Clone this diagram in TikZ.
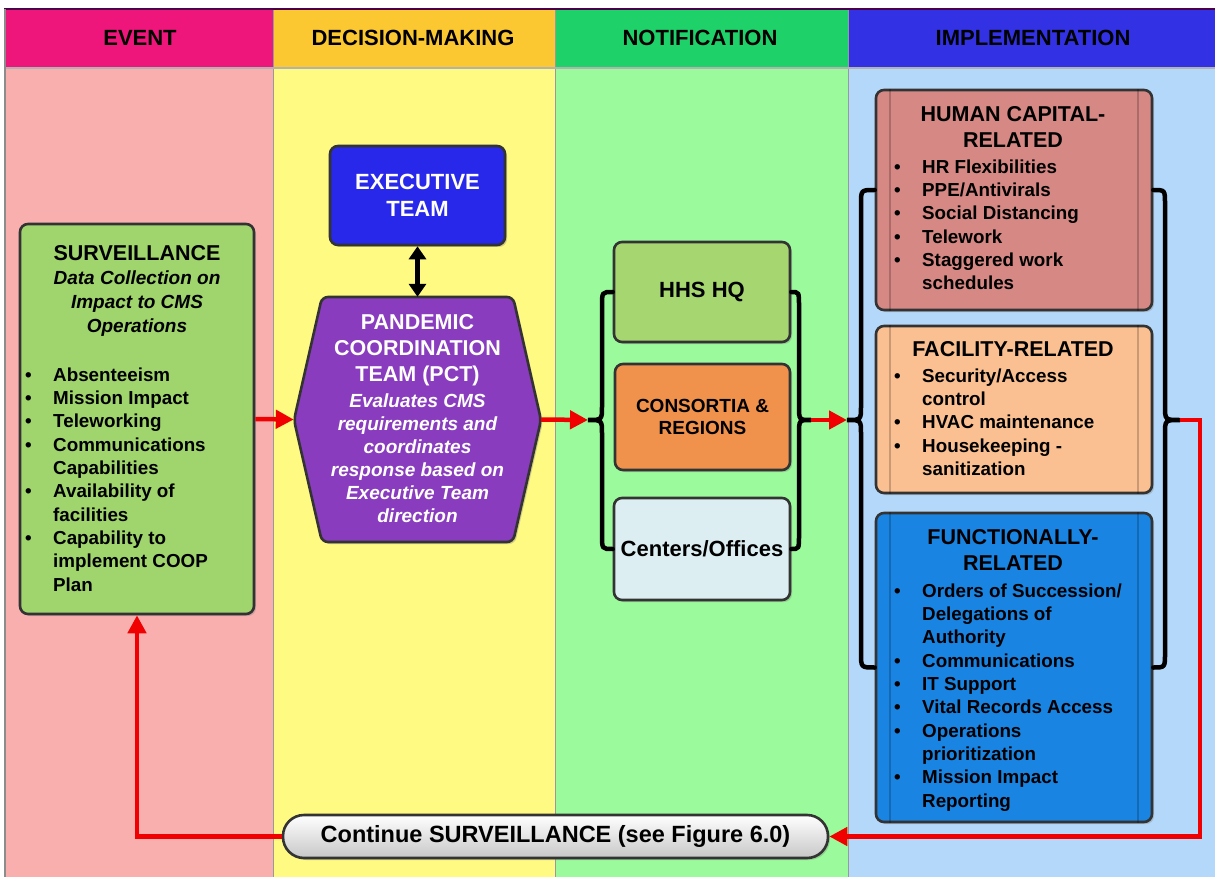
\documentclass[tikz,border=0pt]{standalone}
\usepackage{fontspec}
\setmainfont{Liberation Sans}
\usetikzlibrary{arrows.meta,shadows}
\definecolor{evhead}{RGB}{238,22,122}
\definecolor{dmhead}{RGB}{252,200,50}
\definecolor{nthead}{RGB}{30,210,105}
\definecolor{imhead}{RGB}{50,50,228}
\definecolor{evbody}{RGB}{250,175,175}
\definecolor{dmbody}{RGB}{255,250,130}
\definecolor{ntbody}{RGB}{155,250,155}
\definecolor{imbody}{RGB}{180,216,250}
\definecolor{survgreen}{RGB}{160,212,108}
\definecolor{exeblue}{RGB}{40,40,235}
\definecolor{pctpurple}{RGB}{137,60,190}
\definecolor{hhsgreen}{RGB}{166,214,112}
\definecolor{conorange}{RGB}{240,146,76}
\definecolor{cencyan}{RGB}{220,238,242}
\definecolor{humred}{RGB}{214,136,132}
\definecolor{facpeach}{RGB}{250,192,145}
\definecolor{funblue}{RGB}{26,132,226}
\definecolor{flowred}{RGB}{240,0,0}
\newcommand\lbul{\makebox[28pt][l]{\textbullet}}
\newcommand\lind{\hspace*{28pt}}
\begin{document}
\begin{tikzpicture}[x=1pt,y=-1pt,
    box/.style={draw=black!80,line width=2.6pt,rounded corners=8pt,inner sep=0,drop shadow={opacity=0.35,shadow xshift=2pt,shadow yshift=-2pt}},
    head/.style={font=\fontsize{22}{26}\selectfont\bfseries},
    ttl/.style={font=\fontsize{21.5}{26}\selectfont\bfseries,align=center,inner sep=0,anchor=north},
    lst/.style={font=\fontsize{18.8}{23.3}\selectfont\bfseries,align=left,inner sep=0,anchor=north west},
    brace/.style={line width=4.5pt,line cap=round},
    redarrow/.style={flowred,line width=4.5pt,-{Triangle[length=18pt,width=18pt]}}]
\useasboundingbox (0,0) rectangle (1215,877);
\fill[evbody] (5,68) rectangle (273,877);
\fill[dmbody] (273,68) rectangle (555,877);
\fill[ntbody] (555,68) rectangle (848,877);
\fill[imbody] (848,68) rectangle (1215,877);
\fill[evhead] (5,9) rectangle (273,68);
\fill[dmhead] (273,9) rectangle (555,68);
\fill[nthead] (555,9) rectangle (848,68);
\fill[imhead] (848,9) rectangle (1215,68);
\draw[black!40,line width=1pt] (273,9) -- (273,877) (555,9) -- (555,877) (848,9) -- (848,877);
\draw[black!30,line width=1.5pt] (5,68) -- (1215,68);
\draw[violet!60!black,line width=2.5pt] (4,9) -- (1215,9);
\draw[black!45,line width=2.5pt] (5,9) -- (5,877);
\node[head] (hev) at (140,38) {EVENT};
\node[head] (hdm) at (413,38) {DECISION-MAKING};
\node[head] (hnt) at (700,38) {NOTIFICATION};
\node[head] (him) at (1033,38) {IMPLEMENTATION};

\node[box,fill=survgreen,minimum width=234,minimum height=390] (sur) at (137,419) {};
\node[ttl,font=\fontsize{19}{24}\selectfont\bfseries\itshape] (surT) at (137,245.6) {{\fontsize{21.5}{24}\selectfont\upshape SURVEILLANCE}\\Data Collection on\\Impact to CMS\\Operations};
\node[lst] (surL) at (25,367.5) {\lbul Absenteeism\\\lbul Mission Impact\\\lbul Teleworking\\\lbul Communications\\\lind Capabilities\\\lbul Availability of\\\lind facilities\\\lbul Capability to\\\lind implement COOP\\\lind Plan};

\node[box,fill=exeblue,text=white,minimum width=175,minimum height=99,align=center,font=\fontsize{22}{27}\selectfont\bfseries] (exe) at (417.5,195.5) {EXECUTIVE\\TEAM};
\path[box,fill=pctpurple,rounded corners=6pt] (294,420) -- (322,297) -- (513,297) -- (541,420) -- (513,542) -- (322,542) -- cycle;
\node[inner sep=0,minimum width=247,minimum height=245] (pct) at (417.5,419.5) {};
\node[ttl,text=white] (pctT) at (417.5,314.6) {PANDEMIC\\COORDINATION\\TEAM (PCT)};
\node[ttl,text=white,font=\fontsize{19}{23}\selectfont\bfseries\itshape] (pctD) at (417.5,393.4) {Evaluates CMS\\requirements and\\coordinates\\response based on\\Executive Team\\direction};

\node[box,fill=hhsgreen,minimum width=176,minimum height=100,font=\fontsize{22}{26}\selectfont\bfseries] (hhs) at (702,292) {HHS HQ};
\node[box,fill=conorange,minimum width=175,minimum height=106,align=center,font=\fontsize{19}{22.5}\selectfont\bfseries] (con) at (702.5,417) {CONSORTIA \&\\REGIONS};
\node[box,fill=cencyan,minimum width=176,minimum height=102,font=\fontsize{22}{26}\selectfont\bfseries] (cen) at (702,549) {Centers/Offices};

\node[box,fill=humred,minimum width=276,minimum height=220] (hum) at (1014,200) {};
\node[box,fill=facpeach,minimum width=276,minimum height=167] (fac) at (1014,409.5) {};
\node[box,fill=funblue,minimum width=276,minimum height=309] (fun) at (1014,667.5) {};
\foreach \b in {hum,fac,fun}
  \draw[black,opacity=0.2,line width=2pt] ([xshift=15pt]\b.north west) -- ([xshift=15pt]\b.south west) ([xshift=-15pt]\b.north east) -- ([xshift=-15pt]\b.south east);
\node[ttl] (humT) at (1013,106.6) {HUMAN CAPITAL-\\RELATED};
\node[lst] (humL) at (894,159.5) {\lbul HR Flexibilities\\\lbul PPE/Antivirals\\\lbul Social Distancing\\\lbul Telework\\\lbul Staggered work\\\lind schedules};
\node[ttl] (facT) at (1013,341.6) {FACILITY-RELATED};
\node[lst] (facL) at (894,368.5) {\lbul Security/Access\\\lind control\\\lbul HVAC maintenance\\\lbul Housekeeping -\\\lind sanitization};
\node[ttl] (funT) at (1013,529.6) {FUNCTIONALLY-\\RELATED};
\node[lst] (funL) at (894,583.5) {\lbul Orders of Succession/\\\lind Delegations of\\\lind Authority\\\lbul Communications\\\lbul IT Support\\\lbul Vital Records Access\\\lbul Operations\\\lind prioritization\\\lbul Mission Impact\\\lind Reporting};

\node[box,rounded corners=21pt,top color=white,bottom color=black!22,minimum width=545,minimum height=43,font=\fontsize{23.5}{27}\selectfont\bfseries] (cont) at (555.5,836.5) {Continue SURVEILLANCE (see Figure 6.0)};

\coordinate (nl) at (588,420);
\coordinate (nr) at (811,420);
\coordinate (il) at (847,420);
\coordinate (ir) at (1180,420);
\draw[brace] (hhs.west) .. controls (602,292) .. (602,306) -- (602,406) .. controls (602,420) .. (nl) .. controls (602,420) .. (602,434) -- (602,535) .. controls (602,549) .. (cen.west);
\draw[brace] (hhs.east) .. controls (799,292) .. (799,306) -- (799,406) .. controls (799,420) .. (nr) .. controls (799,420) .. (799,434) -- (799,535) .. controls (799,549) .. (cen.east);
\draw[brace] ([yshift=10pt]hum.west) .. controls (861,190) .. (861,204) -- (861,406) .. controls (861,420) .. (il) .. controls (861,420) .. (861,434) -- (861,653) .. controls (861,667.5) .. (fun.west);
\draw[brace] ([yshift=10pt]hum.east) .. controls (1165,190) .. (1165,204) -- (1165,406) .. controls (1165,420) .. (ir) .. controls (1165,420) .. (1165,434) -- (1165,653) .. controls (1165,667.5) .. (fun.east);

\draw[line width=4.5pt,{Triangle[length=13pt,width=17pt]}-{Triangle[length=13pt,width=17pt]}] (exe) -- (pct);
\draw[redarrow] (sur.east) -- (pct.west);
\draw[redarrow] (pct.east) -- (nl);
\draw[redarrow] (nr) -- (il);
\draw[redarrow] (ir) -- ++(20,0) |- (cont.east);
\draw[redarrow] (cont.west) -| (sur.south);
\end{tikzpicture}
\end{document}
